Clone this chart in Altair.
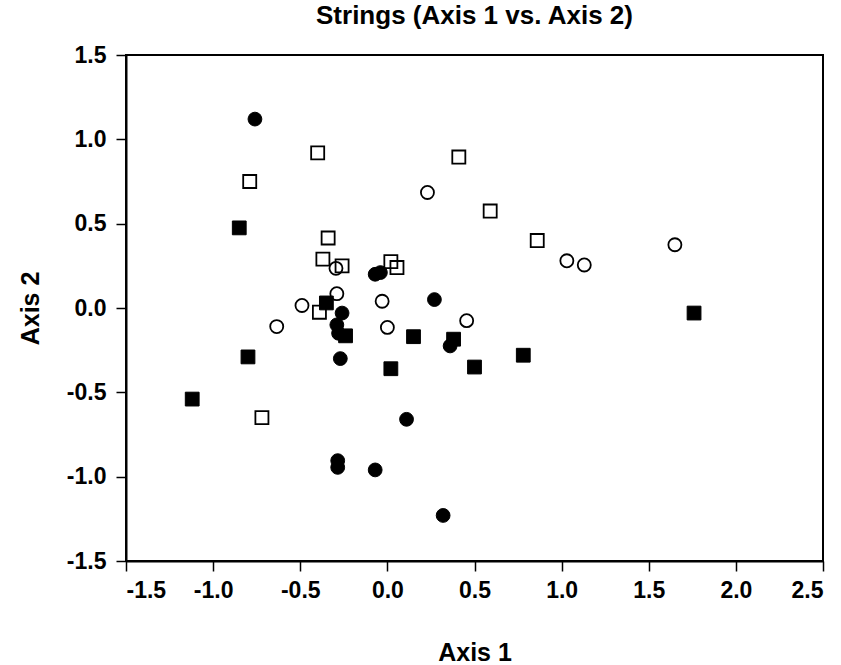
import altair as alt
import pandas as pd

# Filled circles
fc_x = [-0.76, -0.07, -0.04, 0.27, -0.26, -0.29, -0.28, 0.36, -0.27, 0.11, -0.285, -0.285, -0.07, 0.32]
fc_y = [1.12, 0.20, 0.21, 0.05, -0.03, -0.10, -0.15, -0.225, -0.30, -0.66, -0.905, -0.945, -0.96, -1.23]
# Filled squares
fs_x = [-0.85, -0.35, -0.24, 0.15, 0.38, -0.80, 0.02, 0.50, 0.78, -1.12, 1.76]
fs_y = [0.475, 0.03, -0.165, -0.17, -0.185, -0.29, -0.36, -0.35, -0.28, -0.54, -0.03]
# Open circles
oc_x = [0.23, -0.295, -0.29, -0.49, -0.03, -0.635, 0.0, 0.455, 1.03, 1.13, 1.65]
oc_y = [0.685, 0.235, 0.085, 0.015, 0.04, -0.11, -0.115, -0.075, 0.28, 0.255, 0.375]
# Open squares
os_x = [-0.40, 0.41, -0.79, 0.59, 0.86, -0.34, -0.37, -0.26, 0.02, 0.055, -0.39, -0.72]
os_y = [0.92, 0.895, 0.75, 0.575, 0.40, 0.415, 0.29, 0.25, 0.275, 0.24, -0.025, -0.65]

x_ticks = [-1.5, -1.0, -0.5, 0.0, 0.5, 1.0, 1.5, 2.0, 2.5]
y_ticks = [-1.5, -1.0, -0.5, 0.0, 0.5, 1.0, 1.5]

rows = []
for xs, ys, shp, fil in [(fc_x, fc_y, "circle", "filled"), (fs_x, fs_y, "square", "filled"),
                         (oc_x, oc_y, "circle", "open"), (os_x, os_y, "square", "open")]:
    for a, b in zip(xs, ys):
        rows.append({"x": a, "y": b, "shape": shp, "fill": fil})
df = pd.DataFrame(rows)

FONT = "Liberation Sans"
LBL = "replace(format(datum.value, '.1f'), '\u2212', '-')"

xenc = alt.X("x:Q", scale=alt.Scale(domain=[-1.5, 2.5], nice=False, zero=False),
             axis=alt.Axis(title="Axis 1", values=x_ticks, labelExpr=LBL,
                           titleY=99, titleBaseline="alphabetic", labelPadding=8))
yenc = alt.Y("y:Q", scale=alt.Scale(domain=[-1.5, 1.5], nice=False, zero=False),
             axis=alt.Axis(title="Axis 2", values=y_ticks, labelExpr=LBL,
                           titleX=-88, titleBaseline="alphabetic", labelPadding=10))
shape_enc = alt.Shape("shape:N", scale=alt.Scale(domain=["circle", "square"], range=["circle", "square"]),
                      legend=None)

base = alt.Chart(df)
filled = base.transform_filter(alt.datum.fill == "filled").mark_point(
    filled=True, color="black", size=190, opacity=1, strokeWidth=1, stroke="black"
).encode(x=xenc, y=yenc, shape=shape_enc)
opened = base.transform_filter(alt.datum.fill == "open").mark_point(
    filled=False, color="black", size=170, opacity=1, strokeWidth=1.8
).encode(x=xenc, y=yenc, shape=shape_enc)

chart = alt.layer(filled, opened).properties(
    width=697, height=506,
    background="white",
    title=alt.TitleParams("Strings (Axis 1 vs. Axis 2)", font=FONT, fontSize=26, fontWeight="bold",
                          color="black", offset=15, anchor="middle"),
    autosize=alt.AutoSizeParams(type="none"),
    padding={"left": 126, "top": 55, "right": 18, "bottom": 104},
).configure_view(stroke="black", strokeWidth=2).configure_axis(
    domainColor="black", domainWidth=2, tickColor="black", tickWidth=1.5, tickSize=10,
    grid=False, labelFont=FONT, labelFontSize=23, labelFontWeight="bold", labelColor="black",
    titleFont=FONT, titleFontSize=25, titleFontWeight="bold", titleColor="black"
)

chart.save("out.html", embed_options={"renderer": "svg", "actions": False})
